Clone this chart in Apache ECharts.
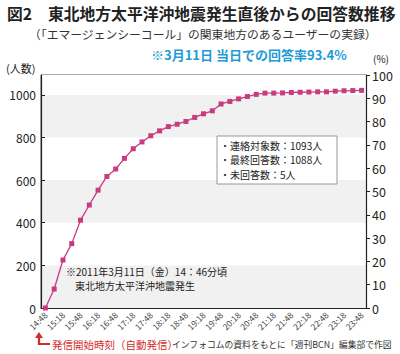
<!DOCTYPE html>
<html>
<head>
<meta charset="utf-8">
<script src="https://cdn.jsdelivr.net/npm/echarts@6/dist/echarts.min.js"></script>
<style>
html,body{margin:0;padding:0;background:#fff;}
#chart{width:400px;height:354px;}
</style>
</head>
<body>
<div id="chart"></div>
<script>
// 時刻（15分刻み）
var times = ['14:48','15:03','15:18','15:33','15:48','16:03','16:18','16:33','16:48','17:03',
    '17:18','17:33','17:48','18:03','18:18','18:33','18:48','19:03','19:18','19:33',
    '19:48','20:03','20:18','20:33','20:48','21:03','21:18','21:33','21:48','22:03',
    '22:18','22:33','22:48','23:03','23:18','23:33','23:48'];
// 回答数（人）
var answers = [0, 89, 225, 302, 412, 483, 553, 617, 652, 702,
    747, 779, 808, 831, 851, 862, 875, 894, 911, 925,
    957, 969, 981, 992, 1002, 1008, 1008, 1009, 1011, 1012,
    1013, 1014, 1014, 1017, 1019, 1020, 1021];
var targetCount = 1093;   // 連絡対象数 = 100%
var leftTicks = [0, 200, 400, 600, 800, 1000];
var rightTicks = [0, 10, 20, 30, 40, 50, 60, 70, 80, 90, 100];

var font = '"Noto Sans CJK JP", sans-serif';
var chart = echarts.init(document.getElementById('chart'), null, {renderer: 'svg'});

var option = {
    backgroundColor: '#fff',
    animation: false,
    textStyle: {fontFamily: font},
    title: [{
        text: '図2　東北地方太平洋沖地震発生直後からの回答数推移',
        left: 2, top: 1,
        textStyle: {fontSize: 15.8, fontWeight: 'bold', color: '#222', fontFamily: font}
    }, {
        text: '（「エマージェンシーコール」の関東地方のあるユーザーの実録）',
        left: 24, top: 23,
        textStyle: {fontSize: 11.8, fontWeight: 'normal', color: '#333', fontFamily: font}
    }, {
        text: '※3月11日 当日での回答率93.4%',
        left: 146, top: 43,
        textStyle: {fontSize: 13, fontWeight: 'bold', color: '#1e9bd7', fontFamily: font}
    }],
    grid: {left: 41, right: 34, top: 75, bottom: 46, show: true, borderColor: '#555', borderWidth: 1},
    xAxis: {
        type: 'category',
        data: times,
        boundaryGap: true,
        axisLine: {lineStyle: {color: '#222', width: 1.2}},
        axisTick: {alignWithLabel: true, interval: 0, inside: true, length: 4, lineStyle: {color: '#222'}},
        axisLabel: {interval: 1, rotate: 45, fontSize: 8.5, color: '#444', margin: 5}
    },
    yAxis: [{
        type: 'value',
        min: 0, max: targetCount, interval: 200,
        axisLine: {show: true, lineStyle: {color: '#222', width: 1.2}},
        axisTick: {show: true, inside: true, length: 4, lineStyle: {color: '#222'}},
        axisLabel: {
            fontSize: 12, color: '#222', margin: 5, showMaxLabel: false,
            formatter: function (v) { return leftTicks.indexOf(v) >= 0 ? v : ''; }
        },
        splitLine: {show: false},
        splitArea: {show: true, areaStyle: {color: ['#f1f1f1', '#ffffff']}}
    }, {
        type: 'value',
        min: 0, max: 100, interval: 10,
        position: 'right',
        axisLine: {show: true, lineStyle: {color: '#222', width: 1.2}},
        axisTick: {show: true, length: 4, lineStyle: {color: '#222'}},
        axisLabel: {
            fontSize: 12.5, color: '#222', margin: 6,
            formatter: function (v) { return rightTicks.indexOf(v) >= 0 ? v : ''; }
        },
        splitLine: {show: false}
    }],
    series: [{
        type: 'line',
        data: answers,
        symbol: 'rect',
        symbolSize: 5,
        itemStyle: {color: '#c93b80'},
        lineStyle: {color: '#c93b80', width: 1.3}
    }],
    graphic: [
        {type: 'text', left: 6, top: 62, style: {text: '(人数)', fontSize: 11, fill: '#222', fontFamily: font}},
        {type: 'text', left: 373, top: 53, style: {text: '(%)', fontSize: 10, fill: '#222', fontFamily: font}},
        // 凡例ボックス
        {type: 'rect', shape: {x: 217, y: 136, width: 120, height: 48},
            style: {fill: '#fff', stroke: '#999', lineWidth: 1}, z: 10},
        {type: 'text', left: 220, top: 138, z: 11,
            style: {text: '・連絡対象数：1093人\n・最終回答数：1088人\n・未回答数：5人',
                fontSize: 10, lineHeight: 14.5, fill: '#222', fontFamily: font}},
        // 地震の注記
        {type: 'text', left: 66, top: 266, z: 11,
            style: {text: '※2011年3月11日（金）14：46分頃', fontSize: 10, fill: '#222', fontFamily: font}},
        {type: 'text', left: 75, top: 280, z: 11,
            style: {text: '東北地方太平洋沖地震発生', fontSize: 10, fill: '#222', fontFamily: font}},
        // 発信開始時刻の矢印
        {type: 'polyline', shape: {points: [[39, 338], [39, 344], [50, 344]]},
            style: {stroke: '#d42a2a', lineWidth: 2.2, fill: null}},
        {type: 'polygon', shape: {points: [[35, 338], [43, 338], [39, 332]]},
            style: {fill: '#d42a2a'}},
        {type: 'text', left: 52, top: 339,
            style: {text: '発信開始時刻（自動発信）', fontSize: 10.5, fill: '#d42a2a', fontFamily: font}},
        {type: 'text', left: 172, top: 340,
            style: {text: 'インフォコムの資料をもとに「週刊BCN」編集部で作図', fontSize: 8.8, fill: '#333', fontFamily: font}}
    ]
};
chart.setOption(option);
</script>
</body>
</html>
